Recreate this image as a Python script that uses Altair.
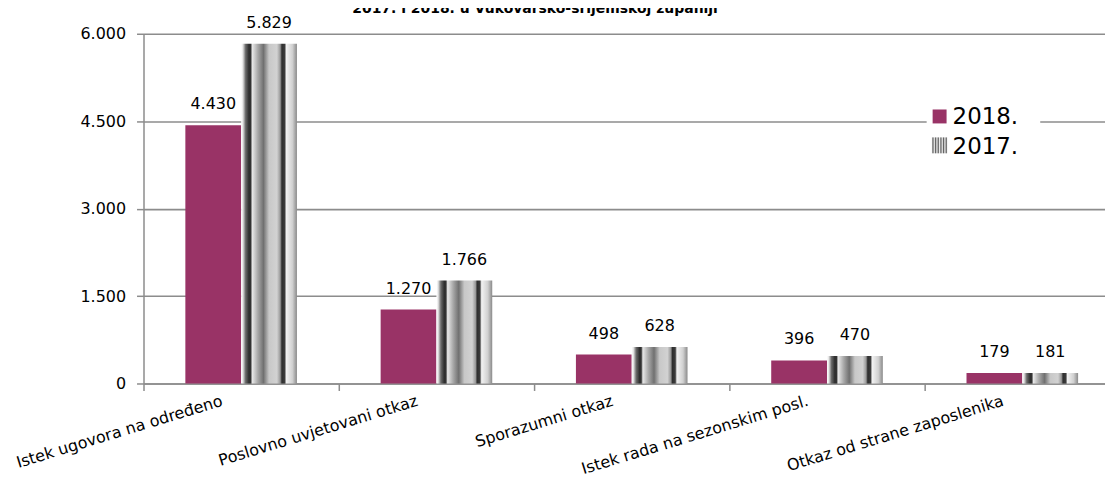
import altair as alt
import pandas as pd

categories = ["Istek ugovora na određeno", "Poslovno uvjetovani otkaz", "Sporazumni otkaz",
              "Istek rada na sezonskim posl.", "Otkaz od strane zaposlenika"]
series = ["2018.", "2017."]
values_2018 = [4430, 1270, 498, 396, 179]
values_2017 = [5829, 1766, 628, 470, 181]
y_ticks = [0, 1500, 3000, 4500, 6000]
title_text = "2017. i 2018. u Vukovarsko-srijemskoj županiji"

FONT = "DejaVu Sans"
MAGENTA = "#993366"
GRID = "#8c8c8c"

rows = []
for c, v18, v17 in zip(categories, values_2018, values_2017):
    rows.append({"kategorija": c, "godina": series[0], "vrijednost": v18})
    rows.append({"kategorija": c, "godina": series[1], "vrijednost": v17})
df = pd.DataFrame(rows)

stripes = [(0.00, "#ffffff"), (0.03, "#e6e6e6"), (0.08, "#6a6a6a"), (0.14, "#2e2e2e"),
           (0.17, "#333333"), (0.20, "#e8e8e8"), (0.30, "#a8a8a8"), (0.40, "#707070"),
           (0.50, "#c8c8c8"), (0.64, "#d2d2d2"), (0.70, "#9a9a9a"), (0.73, "#2e2e2e"),
           (0.78, "#3c3c3c"), (0.81, "#f2f2f2"), (0.92, "#d0d0d0"), (1.00, "#8a8a8a")]
grad = alt.Gradient(gradient="linear", x1=0, x2=1, y1=0, y2=0,
                    stops=[alt.GradientStop(offset=o, color=c) for o, c in stripes])

leg_stops = []
n = 6
for i in range(n):
    a = i / n
    leg_stops += [alt.GradientStop(offset=a, color="#f4f4f4"),
                  alt.GradientStop(offset=a + 0.5 / n, color="#5a5a5a"),
                  alt.GradientStop(offset=a + 0.99 / n, color="#f4f4f4")]
leg_grad = alt.Gradient(gradient="linear", x1=0, x2=1, y1=0, y2=0, stops=leg_stops)

label_expr = "replace(format(datum.value, ','), ',', '.')"

x_enc = alt.X("kategorija:N", sort=categories,
              scale=alt.Scale(range=[0, 980], paddingInner=0, paddingOuter=0),
              axis=alt.Axis(title=None, labelAngle=343, labelAlign="right", labelBaseline="top",
                            labelPadding=2, labelOffset=-22, tickBand="extent", tickSize=7,
                            labelFont=FONT, labelFontSize=16, labelColor="#000000",
                            domainColor=GRID, domainWidth=1.5, tickColor=GRID, tickWidth=1.5,
                            grid=False, labelLimit=400))
xo_enc = alt.XOffset("godina:N", sort=series, scale=alt.Scale(paddingOuter=0.75, paddingInner=0))
y_enc = alt.Y("vrijednost:Q", scale=alt.Scale(domain=[0, 6000], nice=False),
              axis=alt.Axis(title=None, values=y_ticks, labelExpr=label_expr, grid=True,
                            gridColor=GRID, gridWidth=1.6, domainColor=GRID, domainWidth=1.5,
                            tickColor=GRID, tickWidth=1.5, tickSize=7, labelPadding=11,
                            labelFont=FONT, labelFontSize=16, labelColor="#000000"))

base = alt.Chart(df)

bars18 = base.transform_filter(alt.datum.godina == series[0]).mark_bar(fill=MAGENTA).encode(
    x=x_enc, xOffset=xo_enc, y=y_enc)
bars17 = base.transform_filter(alt.datum.godina == series[1]).mark_bar(fill=grad).encode(
    x=x_enc, xOffset=xo_enc, y=y_enc)
labels = base.transform_calculate(
    txt="replace(format(datum.vrijednost, ','), ',', '.')"
).mark_text(font=FONT, fontSize=16, baseline="bottom", dy=-13, color="#000000").encode(
    x=x_enc, xOffset=xo_enc, y=y_enc, text="txt:N")

one = alt.Data(values=[{"k": 1}])
title = alt.Chart(one).mark_text(font=FONT, fontSize=14, fontWeight="bold", align="center",
                                 baseline="alphabetic", color="#000000").encode(
    x=alt.value(393), y=alt.value(-21), text=alt.value(title_text))

leg_bg = alt.Chart(one).mark_rect(fill="#ffffff").encode(
    x=alt.value(786), x2=alt.value(900), y=alt.value(70), y2=alt.value(126))
leg_sq18 = alt.Chart(one).mark_rect(fill=MAGENTA).encode(
    x=alt.value(792), x2=alt.value(806), y=alt.value(76), y2=alt.value(90))
leg_sq17 = alt.Chart(one).mark_rect(fill=leg_grad).encode(
    x=alt.value(791), x2=alt.value(807), y=alt.value(104), y2=alt.value(120))
leg_t18 = alt.Chart(one).mark_text(font=FONT, fontSize=23, align="left", baseline="alphabetic",
                                   color="#000000").encode(
    x=alt.value(812), y=alt.value(91), text=alt.value(series[0]))
leg_t17 = alt.Chart(one).mark_text(font=FONT, fontSize=23, align="left", baseline="alphabetic",
                                   color="#000000").encode(
    x=alt.value(812), y=alt.value(121), text=alt.value(series[1]))

chart = alt.layer(bars18, bars17, labels, title, leg_bg, leg_sq18, leg_sq17, leg_t18, leg_t17).properties(
    width=965, height=351,
    autosize=alt.AutoSizeParams(type="none"),
    padding={"left": 136, "top": 25, "right": 0, "bottom": 93},
    background="#ffffff",
).configure_view(stroke=None)

chart.save("out.html", embed_options={"renderer": "svg", "actions": False})
